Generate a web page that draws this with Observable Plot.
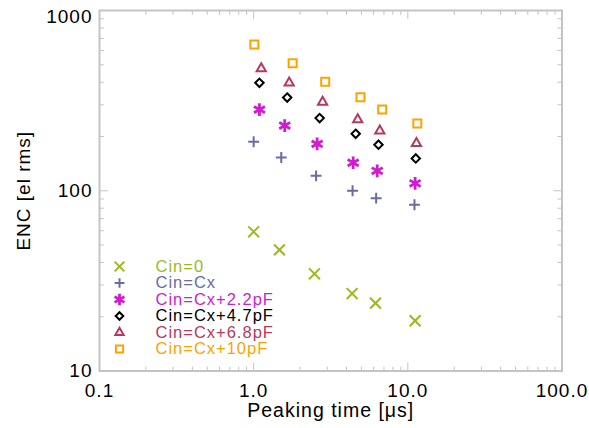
<!DOCTYPE html>
<html>
<head>
<meta charset="utf-8">
<script src="https://cdn.jsdelivr.net/npm/d3@7"></script>
<script src="https://cdn.jsdelivr.net/npm/@observablehq/plot@0.6"></script>
<style>
  html, body { margin: 0; padding: 0; background: #fff; }
  #chart svg { display: block; letter-spacing: 1px; }
</style>
</head>
<body>
<div id="chart"></div>
<script>
// ---- data ----
const seriesNames = ["Cin=0", "Cin=Cx", "Cin=Cx+2.2pF", "Cin=Cx+4.7pF", "Cin=Cx+6.8pF", "Cin=Cx+10pF"];
const seriesColors = ["#9aba1c", "#6a6aa8", "#d21ad2", "#000000", "#b8385a", "#ffa200"];
const seriesSymbols = ["times", "plus", "asterisk", "diamond2", "triangle2", "square2"];
const seriesRadius = [5, 3.6, 6, 3.8, 4.4, 5.1];
const seriesStroke = [2, 2, 2.8, 2, 2, 2];

const xCin0 = [1.00, 1.47, 2.48, 4.35, 6.17, 11.15];
const yCin0 = [59.2, 47.0, 34.6, 26.9, 23.8, 19.0];
const xCx = [1.00, 1.51, 2.54, 4.38, 6.23, 11.04];
const yCx = [187, 153, 121, 100, 91, 83.6];
const xCx22 = [1.09, 1.59, 2.58, 4.42, 6.33, 11.15];
const yCx22 = [282, 230, 182, 143, 129, 110];
const xCx47 = [1.09, 1.65, 2.68, 4.59, 6.45, 11.26];
const yCx47 = [397, 329, 253, 207, 180, 151];
const xCx68 = [1.12, 1.70, 2.80, 4.73, 6.58, 11.37];
const yCx68 = [476, 397, 310, 248, 215, 183];
const xCx10 = [1.01, 1.79, 2.91, 4.93, 6.82, 11.52];
const yCx10 = [647, 510, 403, 330, 282, 236];

const seriesX = [xCin0, xCx, xCx22, xCx47, xCx68, xCx10];
const seriesY = [yCin0, yCx, yCx22, yCx47, yCx68, yCx10];

const xTicks = [0.1, 1, 10, 100];
const xTickLabels = ["0.1", "1.0", "10.0", "100.0"];
const yTicks = [10, 100, 1000];
const yTickLabels = ["10", "100", "1000"];
const xMinor = [0.2,0.3,0.4,0.5,0.6,0.7,0.8,0.9, 2,3,4,5,6,7,8,9, 20,30,40,50,60,70,80,90];
const yMinor = [20,30,40,50,60,70,80,90, 200,300,400,500,600,700,800,900];

// ---- build ----
const gray = "#c4c4c4";
const font = "Liberation Sans, Arial, Helvetica, sans-serif";
const xLabelMap = new Map(xTicks.map((t, i) => [t, xTickLabels[i]]));
const yLabelMap = new Map(yTicks.map((t, i) => [t, yTickLabels[i]]));
const tickShape = {draw(context, l) { context.moveTo(0, 0); context.lineTo(0, -l); }};

function edgeTicks(values, len) {
  return [
    Plot.vector(values, {x: d => d, frameAnchor: "bottom", length: len, rotate: 0, anchor: "start", shape: tickShape, stroke: gray, strokeWidth: 1}),
    Plot.vector(values, {x: d => d, frameAnchor: "top", length: len, rotate: 180, anchor: "start", shape: tickShape, stroke: gray, strokeWidth: 1})
  ];
}
function edgeTicksY(values, len) {
  return [
    Plot.vector(values, {y: d => d, frameAnchor: "left", length: len, rotate: 90, anchor: "start", shape: tickShape, stroke: gray, strokeWidth: 1}),
    Plot.vector(values, {y: d => d, frameAnchor: "right", length: len, rotate: -90, anchor: "start", shape: tickShape, stroke: gray, strokeWidth: 1})
  ];
}

const dataMarks = seriesNames.map((name, s) =>
  Plot.dot(seriesX[s].map((x, i) => ({x, y: seriesY[s][i]})), {
    x: "x", y: "y", symbol: () => seriesSymbols[s], r: seriesRadius[s],
    stroke: seriesColors[s], fill: "none", strokeWidth: seriesStroke[s]
  })
);

const legendMarks = seriesNames.flatMap((name, s) => {
  const dy = -22 - 16.5 * (seriesNames.length - 1 - s);
  return [
    Plot.dot([name], {frameAnchor: "bottom-left", dx: 20, dy, symbol: () => seriesSymbols[s], r: seriesRadius[s] * 0.9,
      stroke: seriesColors[s], fill: "none", strokeWidth: seriesStroke[s]}),
    Plot.text([name], {frameAnchor: "bottom-left", dx: 56, dy, text: d => d, textAnchor: "start", lineAnchor: "middle",
      fill: seriesColors[s], fontSize: 16.5})
  ];
});

const chart = Plot.plot({
  width: 589,
  height: 428,
  marginLeft: 99,
  marginRight: 27.5,
  marginTop: 10,
  marginBottom: 57.5,
  style: {fontFamily: font, color: "#000", background: "#fff"},
  x: {type: "log", domain: [0.1, 100]},
  y: {type: "log", domain: [10, 1000]},
  marks: [
    Plot.frame({stroke: gray, strokeWidth: 2}),
    ...edgeTicks(xTicks, 8),
    ...edgeTicks(xMinor, 4),
    ...edgeTicksY(yTicks, 8),
    ...edgeTicksY(yMinor, 4),
    Plot.axisX(xTicks, {anchor: "bottom", tickSize: 0, tickPadding: 12, tickFormat: d => xLabelMap.get(d), fontSize: 19, label: null}),
    Plot.axisY([10, 100], {anchor: "left", tickSize: 0, tickPadding: 7, tickFormat: d => yLabelMap.get(d), fontSize: 19, label: null}),
    Plot.axisY([1000], {anchor: "left", tickSize: 0, tickPadding: 7, tickFormat: d => yLabelMap.get(d), fontSize: 19, dy: 6, label: null}),
    Plot.text(["Peaking time [μs]"], {frameAnchor: "bottom", dy: 40, textAnchor: "middle", lineAnchor: "middle", text: d => d, fontSize: 19.5}),
    Plot.text(["ENC [el rms]"], {frameAnchor: "left", dx: -76, rotate: -90, textAnchor: "middle", lineAnchor: "middle", text: d => d, fontSize: 19}),
    ...dataMarks,
    ...legendMarks
  ]
});
document.getElementById("chart").append(chart);
</script>
</body>
</html>
